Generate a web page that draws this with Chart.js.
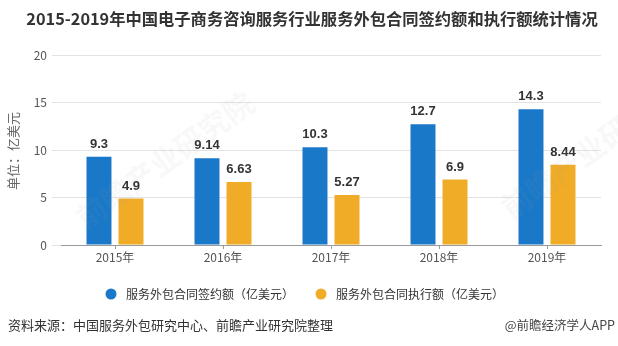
<!DOCTYPE html>
<html>
<head>
<meta charset="utf-8">
<script src="https://cdn.jsdelivr.net/npm/chart.js@4/dist/chart.umd.min.js"></script>
<style>
  html, body { margin: 0; padding: 0; background: #fff; }
  #wrap { width: 618px; height: 346px; position: relative; }
</style>
</head>
<body>
<div id="wrap"><canvas id="chart" width="618" height="346"></canvas></div>
<script>
/* ─── Data ─── */
const YEARS = ['2015年', '2016年', '2017年', '2018年', '2019年'];
const SIGNED = [9.3, 9.14, 10.3, 12.7, 14.3];
const EXECUTED = [4.9, 6.63, 5.27, 6.9, 8.44];
const SERIES_NAMES = ['服务外包合同签约额（亿美元）', '服务外包合同执行额（亿美元）'];
const Y_TICKS = [0, 5, 10, 15, 20];

const TITLE = '2015-2019年中国电子商务咨询服务行业服务外包合同签约额和执行额统计情况';
const Y_TITLE = '单位：亿美元';
const SOURCE = '资料来源：中国服务外包研究中心、前瞻产业研究院整理';
const CREDIT = '@前瞻经济学人APP';

const BLUE = '#1a78c8';
const ORANGE = '#f0ab27';
const FONT = "'Noto Sans CJK SC', 'Liberation Sans', sans-serif";

/* ─── Text around the plot: title, axis title, legend, footer ─── */
const decorations = {
  id: 'decorations',
  afterDraw(chart) {
    const ctx = chart.ctx;
    ctx.save();

    // title
    ctx.fillStyle = '#333';
    ctx.font = `bold 16.3px ${FONT}`;
    ctx.textAlign = 'center';
    ctx.textBaseline = 'middle';
    ctx.fillText(TITLE, 312, 19);

    // y axis title
    ctx.save();
    ctx.translate(13, 151);
    ctx.rotate(-Math.PI / 2);
    ctx.fillStyle = '#666';
    ctx.font = `13px ${FONT}`;
    ctx.fillText(Y_TITLE, 0, 0);
    ctx.restore();

    // legend
    const items = [
      { x: 111, color: BLUE, label: SERIES_NAMES[0] },
      { x: 321, color: ORANGE, label: SERIES_NAMES[1] },
    ];
    ctx.font = `12px ${FONT}`;
    ctx.textAlign = 'left';
    items.forEach(it => {
      ctx.fillStyle = it.color;
      ctx.beginPath();
      ctx.arc(it.x, 294, 5.5, 0, Math.PI * 2);
      ctx.fill();
      ctx.fillStyle = '#333';
      ctx.fillText(it.label, it.x + 15, 294);
    });

    // footer
    ctx.fillStyle = '#333';
    ctx.font = `13px ${FONT}`;
    ctx.fillText(SOURCE, 8, 325);
    ctx.textAlign = 'right';
    ctx.fillStyle = '#444';
    ctx.font = `12.5px ${FONT}`;
    ctx.fillText(CREDIT, 615, 325);

    // faint watermark
    ctx.fillStyle = 'rgba(160, 160, 160, 0.08)';
    ctx.font = `bold 30px ${FONT}`;
    ctx.textAlign = 'center';
    [[165, 160], [590, 150]].forEach(([x, y]) => {
      ctx.save();
      ctx.translate(x, y);
      ctx.rotate(-0.62);
      ctx.fillText('前瞻产业研究院', 0, 0);
      ctx.restore();
    });

    ctx.restore();
  },
};

/* ─── Value labels above bars ─── */
const valueLabels = {
  id: 'valueLabels',
  afterDatasetsDraw(chart) {
    const ctx = chart.ctx;
    ctx.save();
    ctx.fillStyle = '#333';
    ctx.font = `bold 13px 'Liberation Sans', sans-serif`;
    ctx.textAlign = 'center';
    ctx.textBaseline = 'bottom';
    chart.data.datasets.forEach((ds, i) => {
      chart.getDatasetMeta(i).data.forEach((bar, j) => {
        ctx.fillText(String(ds.data[j]), bar.x, bar.y - 6);
      });
    });
    ctx.restore();
  },
};

new Chart(document.getElementById('chart'), {
  type: 'bar',
  data: {
    labels: YEARS,
    datasets: [
      { label: SERIES_NAMES[0], data: SIGNED, backgroundColor: BLUE },
      { label: SERIES_NAMES[1], data: EXECUTED, backgroundColor: ORANGE },
    ],
  },
  options: {
    responsive: false,
    animation: false,
    devicePixelRatio: 1,
    categoryPercentage: 0.593,
    barPercentage: 0.78,
    layout: { padding: { top: 55, right: 17, bottom: 71, left: 0 } },
    plugins: {
      legend: { display: false },
      title: { display: false },
      tooltip: { enabled: false },
    },
    scales: {
      x: {
        grid: {
          offset: false,
          drawOnChartArea: false,
          drawTicks: true,
          tickLength: 4,
          color: '#999',
        },
        border: { color: '#999' },
        ticks: { color: '#555', font: { size: 12, family: FONT }, padding: 1 },
        afterFit(scale) { scale.height = 30; },
      },
      y: {
        min: 0,
        max: 20,
        afterBuildTicks(scale) { scale.ticks = Y_TICKS.map(v => ({ value: v })); },
        grid: { color: '#e3e3e3', tickLength: 9 },
        border: { display: false },
        ticks: { color: '#555', font: { size: 12, family: FONT }, padding: 5 },
        afterFit(scale) { scale.width = 61; },
      },
    },
  },
  plugins: [valueLabels, decorations],
});
</script>
</body>
</html>
